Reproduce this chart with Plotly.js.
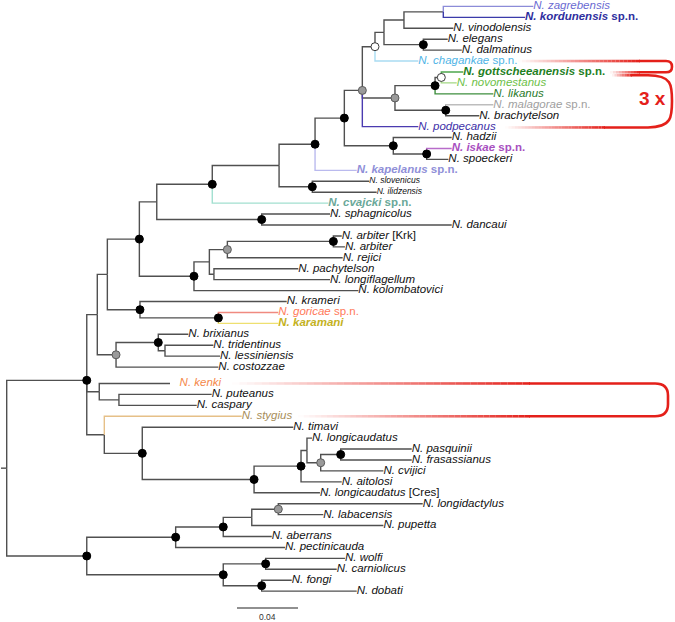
<!DOCTYPE html>
<html><head><meta charset="utf-8">
<script src="https://cdn.plot.ly/plotly-3.0.1.min.js"></script>
<style>html,body{margin:0;padding:0;background:#fff}</style>
</head><body><div id="chart" style="width:675px;height:622px"></div>
<script>
// ---------------- DATA ----------------
// terminal taxa, top to bottom
const taxa = ['N. zagrebensis','N. kordunensis sp.n.','N. vinodolensis','N. elegans','N. dalmatinus','N. chagankae sp.n.','N. gottscheeanensis sp.n.','N. novomestanus','N. likanus','N. malagorae sp.n.','N. brachytelson','N. podpecanus','N. hadzii','N. iskae sp.n.','N. spoeckeri','N. kapelanus sp.n.','N. slovenicus','N. ilidzensis','N. cvajcki sp.n.','N. sphagnicolus','N. dancaui','N. arbiter [Krk]','N. arbiter','N. rejici','N. pachytelson','N. longiflagellum','N. kolombatovici','N. krameri','N. goricae sp.n.','N. karamani','N. brixianus','N. tridentinus','N. lessiniensis','N. costozzae','N. kenki','N. puteanus','N. caspary','N. stygius','N. timavi','N. longicaudatus','N. pasquinii','N. frasassianus','N. cvijici','N. aitolosi','N. longicaudatus [Cres]','N. longidactylus','N. labacensis','N. pupetta','N. aberrans','N. pectinicauda','N. wolfi','N. carniolicus','N. fongi','N. dobati'];
const tipParent = ['Q','Q','O','P','P','L','T','T','R','S','S','J','K','U','U','H','V','V','F','W','W','Ar','Ar','Gr','PL','PL','X','AA','BB','BB','DD','EE','EE','CC','FF','GG','GG','HH','II','LL','NN','NN','MM','KK','JJ','SS','SS','RR','QQ','OO','TT','TT','UU','UU'];
// distance from root (substitutions/site)
const tipDepth = [0.3453,0.3399,0.2929,0.2892,0.2984,0.2699,0.2994,0.2951,0.3191,0.3191,0.3099,0.2699,0.2918,0.2918,0.2896,0.2295,0.2378,0.2426,0.2109,0.2120,0.2918,0.2197,0.2218,0.2203,0.1912,0.2120,0.2306,0.1836,0.1781,0.1781,0.1191,0.1355,0.1399,0.1388,0.1071,0.1344,0.1246,0.1541,0.1879,0.2002,0.2656,0.2656,0.2470,0.2197,0.2054,0.2728,0.2076,0.2470,0.1738,0.1825,0.2218,0.2164,0.1869,0.2295];
// internal nodes
const nodeId = ['root','A','B','Aup','C','D','E','F','G','H','I','J','L','N','O','Q','P','M','R','T','S','K','U','V','W','X','Z','Gr','Ar','PL','AA','BB','CC','DD','EE','FF','GG','HH','II','JJ','KK','LL','MM','NN','OO','QQ','RR','SS','PP','TT','UU'];
const nodeParent = ['','root','root','A','Aup','C','D','E','F','G','H','I','J','L','N','O','N','J','M','R','M','I','K','G','E','D','X','Z','Gr','Z','C','AA','Aup','CC','DD','A','FF','A','HH','II','JJ','KK','LL','MM','B','OO','QQ','RR','B','PP','PP'];
const nodeDepth = [0,0.0525,0.0525,0.0594,0.0660,0.0870,0.0984,0.1348,0.1786,0.2022,0.2214,0.2332,0.2415,0.2474,0.2605,0.2863,0.2732,0.2546,0.2809,0.2850,0.2879,0.2535,0.2754,0.2004,0.1672,0.1228,0.1329,0.1447,0.2142,0.1359,0.0874,0.1388,0.0717,0.0994,0.1038,0.0607,0.0736,0.0640,0.0889,0.1622,0.1930,0.1969,0.2059,0.2190,0.1108,0.1420,0.1607,0.1781,0.1420,0.1698,0.1672];
// node support class: high = black, mid = grey, low = white
const nodeSupport = ['','high','high','','','high','','high','','high','high','mid','low','','','','high','mid','high','low','high','high','high','high','high','high','','mid','high','','high','high','mid','high','','','','','high','high','high','','mid','high','high','high','','mid','high','high','high'];
const scaleBarValue = 0.04;
const scaleBarLabel = '0.04';
const bracketLabel = '3 x';

// ---------------- STYLE ----------------
const FONT = 'Liberation Sans, Arial, sans-serif';
const BR = '#505050';
const tipStyle = {
  'N. zagrebensis': {line:'#8c8cd8', text:'#6a6ad2'},
  'N. kordunensis sp.n.': {line:'#3b3baa', text:'#2e2e9e', bold:true},
  'N. chagankae sp.n.': {line:'#a9dcf2', text:'#4fb4e6'},
  'N. gottscheeanensis sp.n.': {line:'#4ea64e', text:'#1f801f', bold:true},
  'N. novomestanus': {line:'#a3d884', text:'#6dbf48'},
  'N. likanus': {line:'#3f8f3f', text:'#2a7a2a'},
  'N. malagorae sp.n.': {line:'#bdbdbd', text:'#a0a0a0'},
  'N. podpecanus': {line:'#4b3bb0', text:'#3d2fa8'},
  'N. iskae sp.n.': {line:'#b86cca', text:'#a84fbf', bold:true},
  'N. kapelanus sp.n.': {line:'#babaee', text:'#8f8fd8', bold:true},
  'N. cvajcki sp.n.': {line:'#a2e0d0', text:'#6aa899', bold:true},
  'N. goricae sp.n.': {line:'#f08a80', text:'#ff7a5a'},
  'N. karamani': {line:'#eee070', text:'#c4b21e', bold:true},
  'N. kenki': {text:'#f5894a', pad:3},
  'N. stygius': {line:'#e6c088', text:'#a88e5a'},
  'N. slovenicus': {size:8.5},
  'N. ilidzensis': {size:8.5}
};
// pixel <-> data mapping (margins are zero)
const X0PX = 6.7, XPX = 1525, Y0PX = 6.4, YPX = 10.93;
const X = px => (px - X0PX) / XPX;
const R = py => (py - Y0PX) / YPX;
const gapBefore = taxa.indexOf('N. kenki');

// ---------------- TREE GEOMETRY ----------------
const rows = taxa.map((t, i) => i + (i >= gapBefore ? 0.5 : 0));
const children = {};
nodeId.forEach(n => children[n] = []);
nodeId.forEach((n, i) => { if (nodeParent[i]) children[nodeParent[i]].push({type:'node', id:n}); });
taxa.forEach((t, i) => children[tipParent[i]].push({type:'tip', idx:i}));
const nodeY = {};
function yOf(c) {
  if (c.type === 'tip') return rows[c.idx];
  if (nodeY[c.id] !== undefined) return nodeY[c.id];
  const ys = children[c.id].map(yOf);
  nodeY[c.id] = ys.reduce((a, b) => a + b, 0) / ys.length;
  return nodeY[c.id];
}
yOf({type:'node', id:'root'});
const depthOf = c => c.type === 'tip' ? tipDepth[c.idx] : nodeDepth[nodeId.indexOf(c.id)];

const segs = {};
function addSeg(color, xs, ys) {
  if (!segs[color]) segs[color] = {x:[], y:[]};
  segs[color].x.push(...xs, null); segs[color].y.push(...ys, null);
}
nodeId.forEach((p, pi) => {
  const px = nodeDepth[pi], py = nodeY[p];
  children[p].forEach(c => {
    const cy = yOf(c), cx = depthOf(c);
    let col = BR;
    if (c.type === 'tip' && tipStyle[taxa[c.idx]] && tipStyle[taxa[c.idx]].line) col = tipStyle[taxa[c.idx]].line;
    addSeg(col, [px, px, cx], [py, cy, cy]);
  });
});
// root stem
addSeg(BR, [X(1), 0], [nodeY['root'], nodeY['root']]);

const traces = [];
const colorOrder = [BR, ...Object.keys(segs).filter(k => k !== BR)];
colorOrder.forEach(col => {
  traces.push({type:'scatter', mode:'lines', x:segs[col].x, y:segs[col].y,
    line:{color:col, width:1.4}, hoverinfo:'skip', showlegend:false});
});

// support markers
const supStyle = {high:{color:'#000000', line:'#000000'}, mid:{color:'#9a9a9a', line:'#5a5a5a'}, low:{color:'#ffffff', line:'#3a3a3a'}};
['high','mid','low'].forEach(s => {
  const xs = [], ys = [];
  nodeId.forEach((n, i) => { if (nodeSupport[i] === s) { xs.push(nodeDepth[i]); ys.push(nodeY[n]); } });
  traces.push({type:'scatter', mode:'markers', x:xs, y:ys,
    marker:{size:8, color:supStyle[s].color, line:{color:supStyle[s].line, width:1}},
    hoverinfo:'skip', showlegend:false});
});

// tip labels
function fmt(name) {
  const parts = name.split(' ');
  const it = parts.slice(0, 2).join(' ');
  const rest = parts.slice(2).join(' ');
  let s = '<i>' + it + '</i>' + (rest ? ' ' + rest : '');
  const st = tipStyle[name];
  if (st && st.bold) s = '<b>' + s + '</b>';
  if (st && st.pad) s = '&nbsp;'.repeat(st.pad) + s;
  return s;
}
traces.push({type:'scatter', mode:'text', x:tipDepth, y:rows,
  text:taxa.map(fmt), textposition:'middle right',
  textfont:{family:FONT, size:taxa.map(t => (tipStyle[t] && tipStyle[t].size) || 11.5),
    color:taxa.map(t => (tipStyle[t] && tipStyle[t].text) || '#111111')},
  hoverinfo:'skip', showlegend:false, cliponaxis:false});

// scale bar
const sbX0 = X(237), sbY = R(608);
traces.push({type:'scatter', mode:'lines', x:[sbX0, sbX0 + scaleBarValue], y:[sbY, sbY],
  line:{color:'#222', width:1.2}, hoverinfo:'skip', showlegend:false});

// ---------------- BRACKETS ----------------
const RED = [228, 32, 26];
const shapes = [];
function fade(x0px, x1px, py, a0, a1, n) {
  for (let k = 0; k < n; k++) {
    const t0 = k / n, t1 = (k + 1) / n;
    const a = a0 + (a1 - a0) * (t0 + t1) / 2;
    shapes.push({type:'line', xref:'x', yref:'y', x0:X(x0px + (x1px - x0px) * t0), x1:X(x0px + (x1px - x0px) * t1),
      y0:R(py), y1:R(py), line:{color:`rgba(${RED[0]},${RED[1]},${RED[2]},${a.toFixed(3)})`, width:2.6}});
  }
}
function pathPx(cmds) {
  return cmds.map(c => c[0] + ' ' + c.slice(1).map((v, j) => (j % 2 === 0 ? X(v) : R(v))).join(',')).join(' ');
}
const redLine = {color:`rgb(${RED.join(',')})`, width:2.6};
const rowPx = r => Y0PX + r * YPX;
const yCh = rowPx(rows[taxa.indexOf('N. chagankae sp.n.')]);
const yGo = rowPx(rows[taxa.indexOf('N. gottscheeanensis sp.n.')]);
const yPo = rowPx(rows[taxa.indexOf('N. podpecanus')]);
const yKe = rowPx(rows[taxa.indexOf('N. kenki')]);
const ySt = rowPx(rows[taxa.indexOf('N. stygius')]);
// small upper bracket
const ySb = yGo + 0.3, yBt = yGo + 3.3;
fade(518, 640, yCh, 0, 1, 30);
fade(640, 610, ySb, 1, 0, 10);
shapes.push({type:'path', xref:'x', yref:'y', line:redLine,
  path:pathPx([['M',639,yCh],['L',666,yCh],['Q',672,yCh,672,(yCh+ySb)/2],['Q',672,ySb,666,ySb],['L',639,ySb]])});
// big upper bracket
fade(612, 632, yBt, 0, 1, 8);
fade(605, 505, yPo + 0.8, 1, 0, 30);
shapes.push({type:'path', xref:'x', yref:'y', line:redLine,
  path:pathPx([['M',631,yBt],['L',648,yBt],['C',672,yBt,672,yBt+10,672,(yBt+yPo)/2],
    ['C',672,yPo-10,672,yPo+0.8,648,yPo+0.8],['L',604,yPo+0.8]])});
// lower bracket
fade(232, 530, yKe, 0, 1, 40);
fade(530, 298, ySt, 1, 0, 40);
shapes.push({type:'path', xref:'x', yref:'y', line:redLine,
  path:pathPx([['M',529,yKe],['L',655,yKe],['Q',668,yKe,668,yKe+12],['L',668,ySt-12],['Q',668,ySt,655,ySt],['L',529,ySt]])});

const annotations = [
  {x:X(652), y:R(98), xref:'x', yref:'y', text:'<b>' + bracketLabel + '</b>', showarrow:false,
   font:{family:FONT, size:19, color:`rgb(${RED.join(',')})`}, xanchor:'center', yanchor:'middle'},
  {x:sbX0 + scaleBarValue / 2, y:R(617), xref:'x', yref:'y', text:scaleBarLabel, showarrow:false,
   font:{family:FONT, size:8.5, color:'#333'}, xanchor:'center', yanchor:'middle'}
];

const layout = {
  width:675, height:622, margin:{l:0, r:0, t:0, b:0},
  paper_bgcolor:'#ffffff', plot_bgcolor:'#ffffff', showlegend:false,
  xaxis:{range:[X(0), X(675)], visible:false, fixedrange:true},
  yaxis:{range:[R(622), R(0)], visible:false, fixedrange:true},
  shapes:shapes, annotations:annotations, font:{family:FONT}
};
Plotly.newPlot('chart', traces, layout, {staticPlot:true, displayModeBar:false});
</script></body></html>
